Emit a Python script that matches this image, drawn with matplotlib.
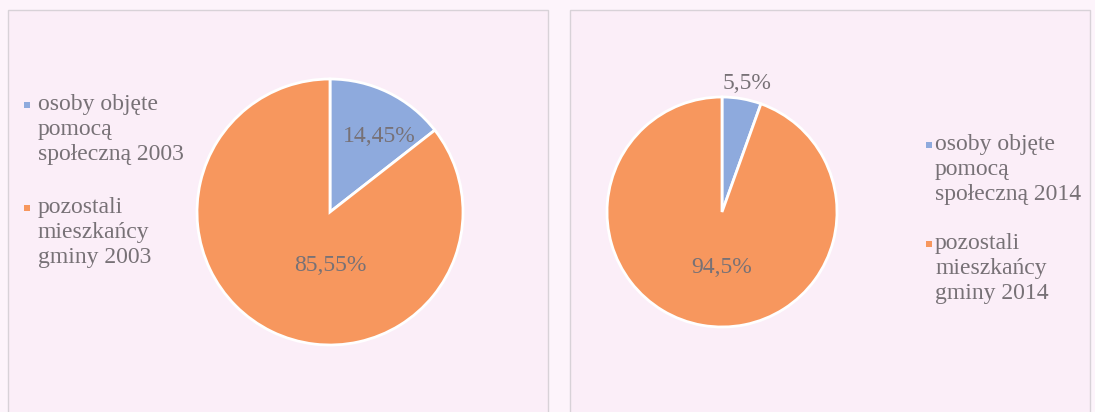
import matplotlib
matplotlib.use("Agg")
import matplotlib.pyplot as plt
from matplotlib.patches import Rectangle

plt.rcParams['font.family'] = ['Liberation Serif', 'DejaVu Serif']

# data
shares_2003 = [14.45, 85.55]
shares_2014 = [5.5, 94.5]
pct_labels_2003 = ["14,45%", "85,55%"]
pct_labels_2014 = ["5,5%", "94,5%"]
legend_2003 = ["osoby objęte\npomocą\nspołeczną 2003", "pozostali\nmieszkańcy\ngminy 2003"]
legend_2014 = ["osoby objęte\npomocą\nspołeczną 2014", "pozostali\nmieszkańcy\ngminy 2014"]

colors = ["#8eaadd", "#f7975e"]
text_col = "#777176"
W, H = 1095, 412

fig = plt.figure(figsize=(W / 100, H / 100), dpi=100)
fig.patch.set_facecolor("#fdf4fb")

# panel frames
for x0, x1 in [(8, 548), (570, 1090)]:
    fig.patches.append(Rectangle((x0 / W, -0.05), (x1 - x0) / W, (H - 10) / H + 0.05,
                                 transform=fig.transFigure, facecolor="#fbeef8",
                                 edgecolor="#d8d2d8", linewidth=1.0, zorder=-5))


def draw_pie(cx, cy, r, values, labels, label_pos):
    ax = fig.add_axes([(cx - r) / W, (H - cy - r) / H, 2 * r / W, 2 * r / H])
    ax.pie(values, colors=colors, startangle=90, counterclock=False,
           wedgeprops=dict(edgecolor="white", linewidth=2))
    ax.set_xlim(-1, 1)
    ax.set_ylim(-1, 1)
    ax.set_aspect("equal")
    ax.axis("off")
    for lab, (lx, ly) in zip(labels, label_pos):
        ax.text(lx, ly, lab, ha="center", va="center", fontsize=17,
                color=text_col, clip_on=False)
    return ax


draw_pie(330, 212, 133, shares_2003, pct_labels_2003, [(0.37, 0.57), (0.0, -0.40)])
draw_pie(722, 212, 115, shares_2014, pct_labels_2014, [(0.22, 1.12), (0.0, -0.48)])


def draw_legend(mx, tx, first_lines, labels):
    # square marker next to the first line of each entry, wrapped label text
    for c, ly, lab in zip(colors, first_lines, labels):
        fig.patches.append(Rectangle(((mx - 3) / W, (H - ly - 3) / H), 6 / W, 6 / H,
                                     transform=fig.transFigure, facecolor=c,
                                     edgecolor="none"))
        fig.text(tx / W, (H - ly + 11) / H, lab, ha="left", va="top",
                 fontsize=17, color=text_col, linespacing=1.25)


draw_legend(27, 38, [105, 208], legend_2003)
draw_legend(929, 935, [145, 244], legend_2014)

fig.savefig("out.png", dpi=100, facecolor=fig.get_facecolor())
